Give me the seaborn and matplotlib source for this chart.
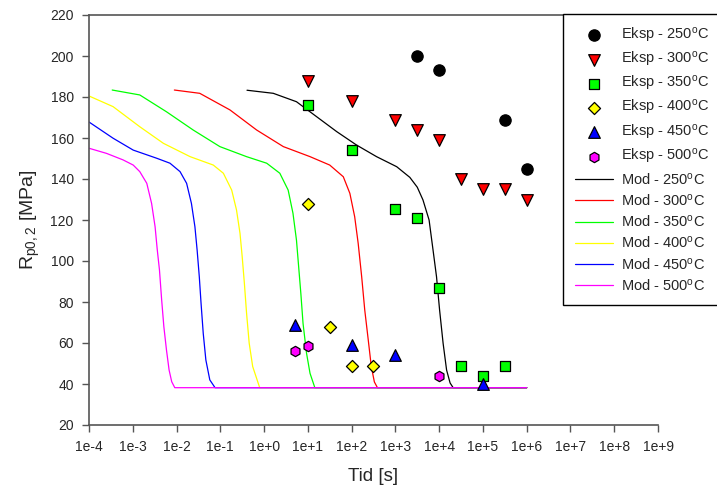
import numpy as np
import matplotlib
matplotlib.use("Agg")
import matplotlib.pyplot as plt
import seaborn as sns

# ---------------- data ----------------
temps = ["250", "300", "350", "400", "450", "500"]
colors = ["#000000", "#FF0000", "#00FF00", "#FFFF00", "#0000FF", "#FF00FF"]
markers = ["o", "v", "s", "D", "^", "h"]
msizes = [66, 70, 45, 38, 70, 55]

# experimental data: time [s], Rp0.2 [MPa]
eksp_250_t = [3.16e3, 1e4, 3.16e5, 1e6]
eksp_250_r = [200, 193, 169, 145]
eksp_300_t = [10, 100, 1e3, 3.16e3, 1e4, 3.16e4, 1e5, 3.16e5, 1e6]
eksp_300_r = [188, 178, 169, 164, 159, 140, 135, 135, 130]
eksp_350_t = [10, 100, 1e3, 3.16e3, 1e4, 3.16e4, 1e5, 3.16e5]
eksp_350_r = [176, 154, 125.5, 121, 87, 49, 44, 49]
eksp_400_t = [10, 31.6, 100, 316]
eksp_400_r = [128, 68, 49, 49]
eksp_450_t = [5, 100, 1e3, 1e5]
eksp_450_r = [69, 59, 54, 40]
eksp_500_t = [5, 10, 1e4]
eksp_500_r = [56, 58.5, 44]

# model curves: log10(time [s]), Rp0.2 [MPa]
mod_250_logt = [-0.39, 0.21, 0.74, 1.20, 1.66, 2.11, 2.57, 3.03, 3.33, 3.50, 3.63, 3.77,
                3.86, 3.94, 4.01, 4.09, 4.17, 4.25, 4.32, 6.0]
mod_250_r = [183.3, 181.8, 177.7, 170.4, 163.1, 156.6, 150.9, 146.0, 140.8, 136.0, 129.8, 120.0,
             105.4, 92.3, 76.1, 59.9, 46.8, 40.5, 38.2, 38.2]
mod_300_logt = [-2.05, -1.47, -0.78, -0.17, 0.44, 1.05, 1.50, 1.81, 1.96, 2.07, 2.15, 2.23,
                2.30, 2.38, 2.45, 2.52, 2.59, 6.0]
mod_300_r = [183.4, 181.8, 173.7, 163.9, 155.8, 150.9, 146.8, 141.1, 133.0, 121.6, 108.6, 92.3,
             76.1, 61.5, 48.5, 41.0, 38.2, 38.2]
mod_350_logt = [-3.47, -2.84, -2.23, -1.62, -1.01, -0.40, 0.06, 0.36, 0.55, 0.66, 0.74, 0.79,
                0.84, 0.89, 0.97, 1.05, 1.16, 6.0]
mod_350_r = [183.4, 181.0, 172.8, 163.9, 155.8, 150.9, 147.7, 142.8, 134.6, 123.3, 110.2, 97.2,
             84.2, 69.6, 55.0, 45.2, 38.2, 38.2]
mod_400_logt = [-4.0, -3.45, -2.84, -2.30, -1.69, -1.16, -0.93, -0.74, -0.63, -0.55, -0.50,
                -0.45, -0.40, -0.34, -0.26, -0.10, 6.0]
mod_400_r = [180.5, 175.3, 165.5, 157.4, 150.9, 146.8, 142.8, 134.6, 124.9, 113.5, 102.1,
             89.1, 74.5, 59.9, 48.5, 38.2, 38.2]
mod_450_logt = [-4.0, -3.45, -2.99, -2.45, -2.15, -1.92, -1.77, -1.66, -1.58, -1.53, -1.48,
                -1.44, -1.39, -1.33, -1.24, -1.12, 6.0]
mod_450_r = [167.8, 159.9, 154.1, 150.1, 147.7, 143.6, 137.9, 128.1, 116.7, 105.4, 92.3,
             79.4, 64.7, 51.7, 42.0, 38.2, 38.2]
mod_500_logt = [-4.0, -3.60, -3.22, -2.99, -2.84, -2.68, -2.57, -2.49, -2.44, -2.39, -2.34,
                -2.29, -2.23, -2.17, -2.11, -2.04, 6.0]
mod_500_r = [155.0, 152.5, 149.3, 146.8, 143.6, 137.9, 128.1, 116.7, 105.4, 95.6, 81.0,
             68.0, 56.6, 46.8, 41.1, 38.2, 38.2]

x_exponents = list(range(-4, 10))
y_ticks = [20, 40, 60, 80, 100, 120, 140, 160, 180, 200, 220]

eksp_t = [eksp_250_t, eksp_300_t, eksp_350_t, eksp_400_t, eksp_450_t, eksp_500_t]
eksp_r = [eksp_250_r, eksp_300_r, eksp_350_r, eksp_400_r, eksp_450_r, eksp_500_r]
mod_logt = [mod_250_logt, mod_300_logt, mod_350_logt, mod_400_logt, mod_450_logt, mod_500_logt]
mod_r = [mod_250_r, mod_300_r, mod_350_r, mod_400_r, mod_450_r, mod_500_r]

# ---------------- plot ----------------
sns.set_style("ticks")
plt.rcParams["font.family"] = ["Liberation Sans", "DejaVu Sans"]
plt.rcParams["mathtext.fontset"] = "custom"
plt.rcParams["mathtext.rm"] = "Liberation Sans"
plt.rcParams["mathtext.it"] = "Liberation Sans"

fig = plt.figure(figsize=(7.17, 4.92), dpi=100)
ax = fig.add_axes([89 / 717, 1 - 425 / 492, (658 - 89) / 717, (425 - 15) / 492])
ax.set_xscale("log")

for T, c, lt, r in zip(temps, colors, mod_logt, mod_r):
    sns.lineplot(x=np.power(10.0, lt), y=r, color=c, linewidth=0.9, sort=False,
                 estimator=None, ax=ax, label=f"Mod - {T}$^\\mathregular{{o}}$C", zorder=2)

for T, c, m, s, t, r in zip(temps, colors, markers, msizes, eksp_t, eksp_r):
    sns.scatterplot(x=t, y=r, color=c, marker=m, s=s, edgecolor="black", linewidth=0.9,
                    ax=ax, label=f"Eksp - {T}$^\\mathregular{{o}}$C", zorder=3)

ax.set_xlim(1e-4, 1e9)
ax.set_ylim(20, 220)
ax.set_xticks([10.0 ** k for k in x_exponents])
ax.set_xticklabels([f"1e{k:+d}" for k in x_exponents])
ax.xaxis.set_minor_locator(matplotlib.ticker.NullLocator())
ax.set_yticks(y_ticks)
ax.tick_params(axis="both", which="major", labelsize=10, direction="out", length=5,
               width=1, color="#555555", pad=6)
for sp in ["left", "bottom", "top"]:
    ax.spines[sp].set_color("#555555")
    ax.spines[sp].set_linewidth(1.2)
ax.spines["right"].set_visible(False)

ax.set_xlabel("Tid [s]", fontsize=13.5, labelpad=10)
ax.set_ylabel("R$_\\mathregular{p0,2}$ [MPa]", fontsize=14, labelpad=6)

handles, labels = ax.get_legend_handles_labels()
order = list(range(6, 12)) + list(range(0, 6))
leg = ax.legend([handles[i] for i in order], [labels[i] for i in order],
                loc="upper left", bbox_to_anchor=(563 / 717, 1 - 14 / 492),
                bbox_transform=fig.transFigure, fontsize=10.5, frameon=True,
                fancybox=False, framealpha=1, edgecolor="black", borderpad=0.8,
                labelspacing=0.36, handlelength=2.6, handletextpad=0.6,
                borderaxespad=0)
leg.get_frame().set_linewidth(1.0)

fig.savefig("out.png", dpi=100)
